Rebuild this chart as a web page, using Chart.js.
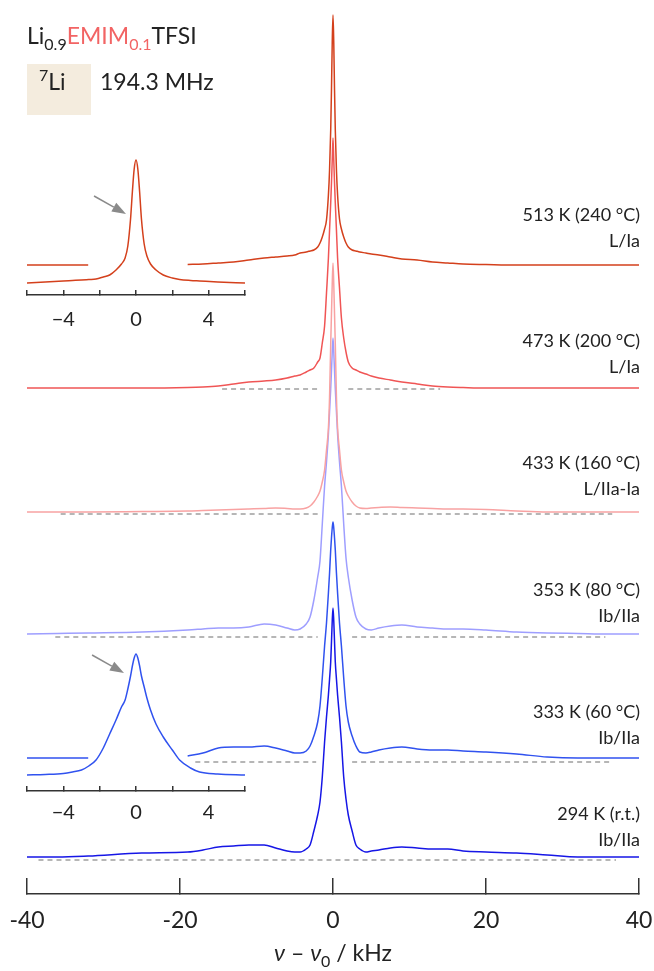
<!DOCTYPE html>
<html>
<head>
<meta charset="utf-8">
<script src="https://cdn.jsdelivr.net/npm/chart.js@4.4.1/dist/chart.umd.min.js"></script>
<style>
  html, body { margin: 0; padding: 0; background: #fff; }
  body { width: 654px; height: 971px; position: relative; overflow: hidden;
         font-family: Lato, "Open Sans", "DejaVu Sans", sans-serif; color: #222; }
  canvas { position: absolute; left: 0; }
  .txt { position: absolute; white-space: nowrap; }
  .lbl { right: 14px; text-align: right; font-size: 18px; line-height: 26px; }
  sub, sup { line-height: 0; }
</style>
</head>
<body>
<canvas id="main" width="654" height="971" style="top:0"></canvas>
<canvas id="insetTop" width="260" height="200" style="top:130px"></canvas>
<canvas id="insetBottom" width="260" height="240" style="top:600px"></canvas>

<div class="txt" style="left:27px; top:24px; font-size:23px; line-height:23px;">Li<sub style="font-size:16px; vertical-align:-6px;">0.9</sub><span style="color:#f26464">EMIM<sub style="font-size:16px; vertical-align:-6px;">0.1</sub></span>TFSI</div>
<div style="position:absolute; left:27px; top:64px; width:64px; height:51px; background:#f4ecde;"></div>
<div class="txt" style="left:39px; top:70px; font-size:23px; line-height:23px;"><sup style="font-size:16px; vertical-align:9px;">7</sup>Li</div>
<div class="txt" style="left:100px; top:70px; font-size:23px; line-height:23px;">194.3 MHz</div>

<div class="txt lbl" style="top:201px">513 K (240 °C)<br>L/Ia</div>
<div class="txt lbl" style="top:327px">473 K (200 °C)<br>L/Ia</div>
<div class="txt lbl" style="top:449px">433 K (160 °C)<br>L/IIa-Ia</div>
<div class="txt lbl" style="top:576px">353 K (80 °C)<br>Ib/IIa</div>
<div class="txt lbl" style="top:698px">333 K (60 °C)<br>Ib/IIa</div>
<div class="txt lbl" style="top:800px">294 K (r.t.)<br>Ib/IIa</div>

<div class="txt" style="left:0; width:666px; text-align:center; top:941px; font-size:23px; line-height:23px;"><i>ν</i> – <i>ν</i><sub style="font-size:16px; vertical-align:-6px;">0</sub> / kHz</div>

<script>
// frequency grid of the main spectra (kHz)
const freq = [-40, -36, -32, -25, -19, -17, -15, -13, -11, -9, -7.5, -6, -5, -4.3, -3.5,
  -3, -2.5, -2, -1.7, -1.4, -1.1, -0.85, -0.6, -0.45, -0.3, -0.2, -0.1, 0,
  0.1, 0.2, 0.3, 0.45, 0.6, 0.85, 1.1, 1.4, 1.7, 2, 2.5, 3, 3.5, 4.3, 5,
  6, 7.5, 9, 11, 13, 15, 17, 20, 24, 28, 32, 36, 40];

// intensities above each baseline (a.u.), null = not drawn (hidden behind inset)
const k513 = [0, 0, 0, null, 0.5, 1, 2, 3, 5, 7, 8, 9, 10, 12, 13,
  14, 15, 18, 22, 28, 36, 45, 70, 95, 135, 175, 222, 250,
  222, 175, 135, 95, 70, 46, 36, 28, 22, 18, 15, 14, 13, 12, 11,
  10, 8, 6, 5, 3, 2, 1, 0.5, 0, 0, 0, 0, 0];
const k473 = [0, 0, 0, 0, 0.5, 1, 2, 4, 6, 7, 8, 10, 12, 13, 16,
  18, 20, 26, 30, 45, 62, 95, 130, 158, 185, 205, 228, 250,
  228, 205, 185, 158, 130, 100, 70, 50, 36, 26, 20, 18, 16, 14, 12,
  10, 8, 6, 4, 2, 1, 0.5, 0, 0, 0, 0, 0, 0];
const k433 = [0, 0, 0, 0.5, 1, 1.5, 2, 2.5, 3, 3.5, 4, 3.5, 3, 3, 4,
  6, 10, 16, 21, 30, 42, 62, 84, 115, 168, 198, 228, 249,
  228, 198, 168, 115, 84, 62, 42, 30, 21, 16, 10, 6, 4, 3.5, 4,
  4.5, 5, 4.5, 4, 3.5, 3, 3, 2.5, 1, 0, 0, 0, 0];
const k353 = [0, 0.5, 1, 2, 4, 5, 6, 6, 7, 10, 9, 6, 4, 5, 10,
  17, 34, 57, 73, 110, 148, 172, 200, 222, 245, 263, 282, 296,
  282, 263, 245, 222, 200, 172, 148, 110, 76, 57, 34, 17, 10, 5, 4,
  6, 8, 9, 7, 6, 5, 5, 4, 2, 1, 0.5, 0, 0];
const k333 = [0, 0, 0, null, 2, 5, 10, 11, 11, 12, 10, 7, 5, 5, 7,
  12, 22, 36, 52, 80, 112, 135, 165, 185, 208, 220, 230, 236,
  230, 220, 208, 185, 165, 135, 112, 80, 52, 36, 22, 12, 6, 5, 6,
  8, 10, 11, 9, 8, 8, 7, 6, 4, 1, 0, 0, 0];
const k294 = [0, 0, 1, 4, 5, 7, 10, 11, 12, 12, 9, 6, 5, 5, 8,
  12, 26, 42, 55, 80, 115, 140, 162, 178, 195, 215, 236, 249,
  236, 215, 195, 178, 162, 140, 115, 80, 58, 42, 26, 12, 8, 5, 6,
  7, 9, 10, 9, 8, 8, 6, 5, 4, 2, 0, 0, 0];

const spectra = [k513, k473, k433, k353, k333, k294];
const stackOffset = [629, 506, 382, 260, 136, 37];
const colors = ['#d4401c', '#f05555', '#f8a2a2', '#9e9eff', '#3052ef', '#1616e6'];

// dashed reference baselines: [left start, left end, right start, right end], level
const dashSegments = [null, [-14.5, -1.7, 2.0, 14.0], [-35.6, -1.7, 1.8, 36.5],
  [-36.3, -2.0, 2.5, 35.6], [-18.0, -2.2, 2.5, 36.5], [-38.5, 0, 0, 37.0]];
const dashLevel = [null, 505, 380, 257, 132, 34];

// insets: -6..6 kHz zoom on the central line
const insetFreq = [-6, -5, -4, -3.5, -3, -2.6, -2.2, -1.8, -1.45, -1.1, -0.8, -0.6, -0.45,
  -0.3, -0.2, -0.1, 0, 0.1, 0.2, 0.3, 0.45, 0.6, 0.8, 1.1, 1.5, 2, 2.4, 3, 3.5, 4.5, 6];
const inset513 = [1, 2, 3, 3.5, 4, 4.5, 5, 7, 9, 14, 20, 26, 38,
  65, 92, 115, 124, 115, 92, 65, 40, 28, 20, 14, 9, 6, 4.5, 3.5, 3, 2, 1];
const inset333 = [1, 1.5, 2.5, 4, 6, 10, 16, 28, 42, 56, 69, 76, 87,
  100, 110, 118, 122, 118, 110, 100, 89, 78, 66, 52, 39, 26, 16, 8, 4, 2, 1];
const insetTicks = [-4, 0, 4];

const ink = '#333';
const font = 'Lato, "Open Sans", sans-serif';

function toPoints(xs, ys, offset) {
  return xs.map((x, i) => ({ x: x, y: ys[i] === null ? null : ys[i] + offset }));
}

// keep the plot area exactly at the layout padding (no extra room for end labels)
function fixAxis(h) {
  return function (s) { s.height = h; s.paddingLeft = 0; s.paddingRight = 0; };
}

const datasets = [];
dashSegments.forEach((seg, i) => {
  if (!seg) return;
  const lv = dashLevel[i];
  const pts = [{ x: seg[0], y: lv }, { x: seg[1], y: lv }];
  if (seg[2] > seg[1]) pts.push({ x: (seg[1] + seg[2]) / 2, y: null });
  pts.push({ x: seg[2], y: lv }, { x: seg[3], y: lv });
  datasets.push({ data: pts, borderColor: '#6e6e6e', borderWidth: 1.2, borderDash: [5, 4] });
});
spectra.forEach((s, i) => {
  datasets.push({
    data: toPoints(freq, s, stackOffset[i]),
    borderColor: colors[i], borderWidth: 1.5,
    cubicInterpolationMode: 'monotone'
  });
});

new Chart(document.getElementById('main'), {
  type: 'line',
  data: { datasets: datasets },
  options: {
    responsive: false,
    animation: false,
    layout: { padding: { left: 27, right: 15, top: 10, bottom: 0 } },
    plugins: { legend: { display: false }, tooltip: { enabled: false } },
    elements: { point: { radius: 0 } },
    scales: {
      x: {
        type: 'linear', min: -40, max: 40,
        afterFit: fixAxis(77),
        ticks: { stepSize: 20, padding: 29, color: '#222', maxRotation: 0, font: { family: font, size: 23 } },
        grid: { drawOnChartArea: false, tickLength: -16, color: ink, lineWidth: 1.5 },
        border: { display: true, color: ink, width: 1.5 }
      },
      y: { display: false, min: 0, max: 884 }
    }
  }
});

// arrow pointing at the central line
const arrowPlugin = {
  id: 'arrow',
  afterDatasetsDraw(chart, args, opts) {
    if (!opts.from) return;
    const sx = chart.scales.x, sy = chart.scales.y, ctx = chart.ctx;
    const x1 = sx.getPixelForValue(opts.from[0]), y1 = sy.getPixelForValue(opts.from[1]);
    const x2 = sx.getPixelForValue(opts.to[0]), y2 = sy.getPixelForValue(opts.to[1]);
    const a = Math.atan2(y2 - y1, x2 - x1), head = 14, hw = 5;
    const bx = x2 - head * Math.cos(a), by = y2 - head * Math.sin(a);
    ctx.save();
    ctx.strokeStyle = '#8a8a8a';
    ctx.fillStyle = '#8a8a8a';
    ctx.lineWidth = 1.5;
    ctx.beginPath(); ctx.moveTo(x1, y1); ctx.lineTo(bx, by); ctx.stroke();
    ctx.beginPath();
    ctx.moveTo(x2, y2);
    ctx.lineTo(bx + hw * Math.sin(a), by - hw * Math.cos(a));
    ctx.lineTo(bx - hw * Math.sin(a), by + hw * Math.cos(a));
    ctx.closePath(); ctx.fill();
    ctx.restore();
  }
};

function makeInset(id, values, color, base, axisH, yMax, labelPad, arrow) {
  new Chart(document.getElementById(id), {
    type: 'line',
    data: { datasets: [{ data: toPoints(insetFreq, values, base), borderColor: color, borderWidth: 1.5, cubicInterpolationMode: 'monotone' }] },
    plugins: [arrowPlugin],
    options: {
      responsive: false,
      animation: false,
      layout: { padding: { left: 27, right: 15, top: 0, bottom: 0 } },
      plugins: { legend: { display: false }, tooltip: { enabled: false }, arrow: arrow },
      elements: { point: { radius: 0 } },
      scales: {
        x: {
          type: 'linear', min: -6, max: 6,
          afterFit: fixAxis(axisH),
          ticks: {
            stepSize: 2, padding: labelPad, color: '#222', maxRotation: 0, font: { family: font, size: 20 },
            callback: v => insetTicks.includes(v) ? (v < 0 ? '\u2212' + Math.abs(v) : String(v)) : ''
          },
          grid: { drawOnChartArea: false, tickLength: -5, color: ink, lineWidth: 1.5 },
          border: { display: true, color: ink, width: 1.5 }
        },
        y: { display: false, min: 0, max: yMax }
      }
    }
  });
}

makeInset('insetTop', inset513, colors[0], 11, 35, 165, 18, { from: [-2.31, 99], to: [-0.55, 81] });
makeInset('insetBottom', inset333, colors[4], 15, 49, 191, 15, { from: [-2.42, 136], to: [-0.66, 118] });
</script>
</body>
</html>
